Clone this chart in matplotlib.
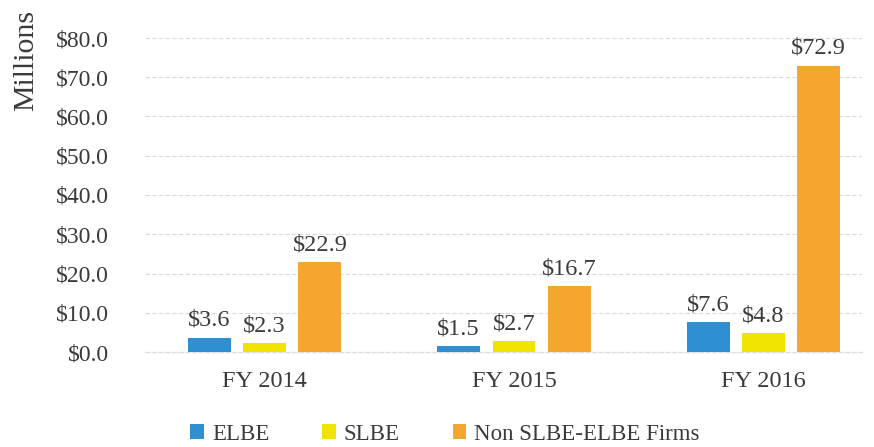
import matplotlib
matplotlib.use("Agg")
import matplotlib.pyplot as plt
import numpy as np

categories = ["FY 2014", "FY 2015", "FY 2016"]
series_names = ["ELBE", "SLBE", "Non SLBE-ELBE Firms"]
elbe = [3.6, 1.5, 7.6]
slbe = [2.3, 2.7, 4.8]
non_firms = [22.9, 16.7, 72.9]
yticks = [0, 10, 20, 30, 40, 50, 60, 70, 80]

colors = ["#2f8fd0", "#f0e300", "#f5a62f"]
text_color = "#3a3a3a"
plt.rcParams['font.family'] = ["Liberation Serif", 'DejaVu Serif']

fig = plt.figure(figsize=(8.74, 4.47), dpi=100)
ax = fig.add_axes([145 / 874, 1 - 352 / 447, 717 / 874, 314 / 447])

x = np.arange(len(categories))
offsets = [-0.222, 0.0, 0.222]
width = 0.172
for vals, off, c, name in zip([elbe, slbe, non_firms], offsets, colors, series_names):
    bars = ax.bar(x + off, vals, width, color=c, label=name, zorder=3)
    for b, v in zip(bars, vals):
        ax.annotate(f"${v:.1f}", (b.get_x() + b.get_width() / 2, v),
                    xytext=(0, 5), textcoords="offset points",
                    ha="center", va="bottom", fontsize=17.5, color=text_color)

ax.set_xlim(-0.479, 2.395)
ax.set_ylim(0, 80)
ax.set_yticks(yticks)
ax.set_yticklabels([f"${t:.1f}" for t in yticks], fontsize=17, color=text_color)
ax.set_xticks(x)
ax.set_xticklabels(categories, fontsize=17.5, color=text_color)
ax.tick_params(axis="x", length=0, pad=14)
ax.tick_params(axis="y", length=0, pad=26)
ax.grid(axis="y", color="#e2d6d6", linestyle=(0, (4, 2)), linewidth=0.8, zorder=0)
for s in ["top", "right", "left"]:
    ax.spines[s].set_visible(False)
ax.spines["bottom"].set_color("#e2d6d6")
ax.spines["bottom"].set_linewidth(0.8)
ax.spines["bottom"].set_linestyle((0, (4, 2)))

fig.text(26 / 874, 1 - 60 / 447, "Millions", rotation=90, fontsize=21.5, color=text_color,
         ha="center", va="center")

fig.legend(loc="center", bbox_to_anchor=(445 / 874, 1 - 434 / 447), ncol=3, frameon=False,
           fontsize=16.5, handlelength=0.6, handleheight=0.6, handletextpad=0.35,
           columnspacing=2.3, labelcolor=text_color, borderpad=0)

fig.savefig("out.png", dpi=100)
